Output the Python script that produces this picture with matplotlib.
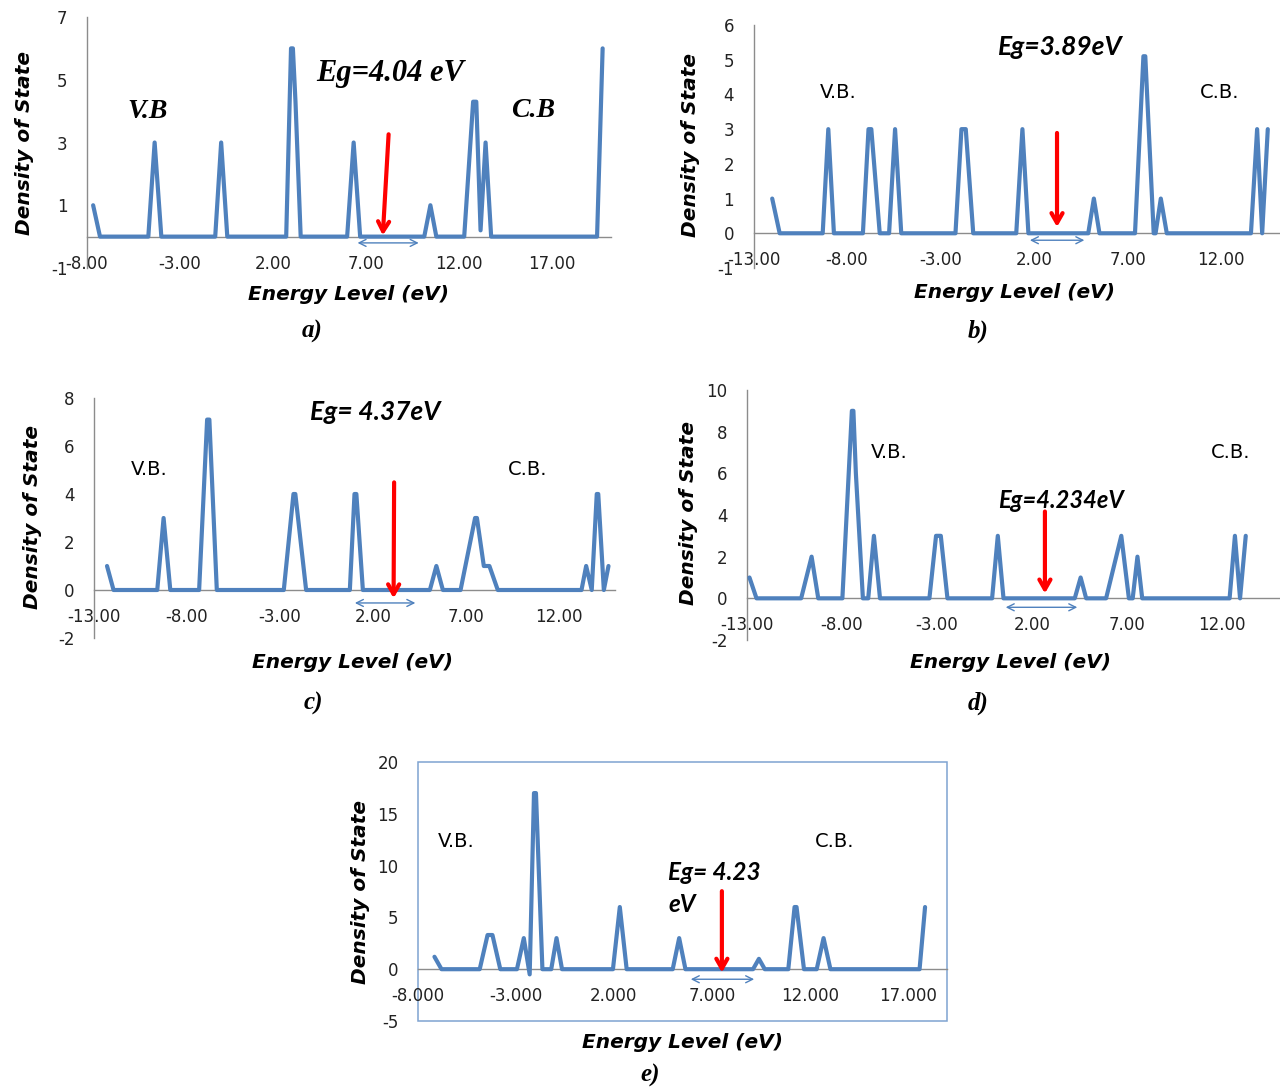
import matplotlib
matplotlib.use("Agg")
import matplotlib.pyplot as plt

plt.rcParams["axes.unicode_minus"] = False

# ---- data (energy in eV, density of states) ----
a_energy = [-7.67, -7.3, -4.7, -4.36, -4.0, -1.1, -0.78, -0.45, 2.72, 2.98, 3.08, 3.22, 3.5,
            6.0, 6.35, 6.7, 10.15, 10.48, 10.8, 12.3, 12.78, 12.95, 13.18, 13.45, 13.75, 19.45, 19.75]
a_dos = [1, 0, 0, 3, 0, 0, 3, 0, 0, 6, 6, 4.3, 0,
         0, 3, 0, 0, 1, 0, 0, 4.3, 4.3, 0.2, 3, 0, 0, 6]

b_energy = [-12.0, -11.6, -9.3, -9.0, -8.7, -7.15, -6.85, -6.7, -6.25, -5.75, -5.43, -5.1,
            -2.2, -1.88, -1.65, -1.25, 1.05, 1.38, 1.7, 4.9, 5.2, 5.5, 7.4, 7.85, 7.95, 8.4,
            8.5, 8.78, 9.1, 13.6, 13.93, 14.2, 14.5]
b_dos = [1, 0, 0, 3, 0, 0, 3, 3, 0, 0, 3, 0,
         0, 3, 3, 0, 0, 3, 0, 0, 1, 0, 0, 5.1, 5.1, 0,
         0, 1, 0, 0, 3, 0, 3]

c_energy = [-12.3, -11.95, -9.6, -9.26, -8.9, -7.35, -6.92, -6.8, -6.4, -2.8, -2.28, -2.18, -1.6,
            0.75, 1.0, 1.1, 1.45, 5.05, 5.4, 5.75, 6.7, 7.48, 7.58, 7.95, 8.25, 8.7,
            13.2, 13.45, 13.75, 14.02, 14.1, 14.4, 14.65]
c_dos = [1, 0, 0, 3, 0, 0, 7.1, 7.1, 0, 0, 4, 4, 0,
         0, 4, 4, 0, 0, 1, 0, 0, 3, 3, 1, 1, 0,
         0, 1, 0, 4, 4, 0, 1]

d_energy = [-12.87, -12.5, -10.15, -9.6, -9.25, -7.98, -7.48, -7.4, -7.27, -6.9, -6.62, -6.32, -6.0,
            -3.4, -3.05, -2.8, -2.45, -0.1, 0.2, 0.5, 4.25, 4.56, 4.85, 5.9, 6.7, 7.1,
            7.3, 7.55, 7.8, 12.4, 12.68, 12.95, 13.25]
d_dos = [1, 0, 0, 2, 0, 0, 9, 9, 6, 0, 0, 3, 0,
         0, 3, 3, 0, 0, 3, 0, 0, 1, 0, 0, 3, 0,
         0, 2, 0, 0, 3, 0, 3]

e_energy = [-7.16, -6.8, -4.85, -4.45, -4.2, -3.8, -2.95, -2.6, -2.3, -2.08, -1.98, -1.65,
            -1.2, -0.93, -0.65, 1.95, 2.3, 2.65, 5.0, 5.33, 5.65, 9.1, 9.4, 9.7,
            10.9, 11.22, 11.32, 11.7, 12.35, 12.7, 13.05, 17.6, 17.88]
e_dos = [1.2, 0, 0, 3.3, 3.3, 0, 0, 3, -0.5, 17, 17, 0,
         0, 3, 0, 0, 6, 0, 0, 3, 0, 0, 1, 0,
         0, 6, 6, 0, 0, 3, 0, 0, 6]

# tick values / labels
a_xticks = [-8, -3, 2, 7, 12, 17]
bcd_xticks = [-13, -8, -3, 2, 7, 12]
e_xticks = [-8, -3, 2, 7, 12, 17]
a_yticks = [-1, 1, 3, 5, 7]
b_yticks = [-1, 0, 1, 2, 3, 4, 5, 6]
c_yticks = [-2, 0, 2, 4, 6, 8]
d_yticks = [-2, 0, 2, 4, 6, 8, 10]
e_yticks = [-5, 0, 5, 10, 15, 20]

# band gap texts
gap_labels = ["Eg=4.04 eV", "Eg=3.89eV", "Eg= 4.37eV", "Eg=4.234eV", "Eg= 4.23\neV"]

W, H = 1280, 1090
BLUE = "#4F81BD"
GRAY = "#8C8C8C"

fig = plt.figure(figsize=(W / 100, H / 100), dpi=100)
fig.patch.set_facecolor("white")


def px_axes(left, top, right, bottom):
    return fig.add_axes([left / W, 1 - bottom / H, (right - left) / W, (bottom - top) / H])


def fig_text(x, y, s, **kw):
    fig.text(x / W, 1 - y / H, s, ha="center", va="center", **kw)


def draw_panel(ax, energy, dos, xlim, ylim, xticks, xfmt, yticks, framed=False):
    ax.plot(energy, dos, color=BLUE, lw=3.0, solid_joinstyle="round",
            solid_capstyle="round", zorder=3, clip_on=False)
    ax.set_xlim(*xlim)
    ax.set_ylim(*ylim)
    ax.set_xticks(xticks)
    ax.set_xticklabels([xfmt.format(t) for t in xticks])
    ax.set_yticks(yticks)
    ax.spines["bottom"].set_position(("data", 0))
    ax.spines["bottom"].set_color(GRAY)
    ax.spines["bottom"].set_linewidth(1.0)
    ax.spines["left"].set_color(GRAY)
    ax.spines["left"].set_linewidth(1.0)
    ax.spines["top"].set_visible(False)
    ax.spines["right"].set_visible(False)
    ax.tick_params(axis="x", length=0, pad=13, labelsize=12, labelcolor="#222222")
    ax.tick_params(axis="y", length=0, pad=14, labelsize=12, labelcolor="#222222")
    ax.patch.set_alpha(0)
    if framed:
        # outer plot-area border as in panel e
        ax.add_patch(plt.Rectangle((0, 0), 1, 1, transform=ax.transAxes, fill=False,
                                   ec="#7FA3D1", lw=1.1, zorder=0, clip_on=False))
        ax.spines["left"].set_visible(False)


def gap_marks(ax, x_top, y_top, x_tip, y_tip, lo, hi, yg):
    ax.annotate("", xy=(x_tip, y_tip), xytext=(x_top, y_top),
                arrowprops=dict(arrowstyle="->,head_length=0.7,head_width=0.4",
                                color="#FF0000", lw=3), zorder=5)
    ax.annotate("", xy=(hi, yg), xytext=(lo, yg),
                arrowprops=dict(arrowstyle="<->,head_length=0.5,head_width=0.25",
                                color=BLUE, lw=1.0), zorder=4)


serif_bi = dict(family="Liberation Serif", weight="bold", style="italic")
sans_bi = dict(family="Lato", weight="bold", style="italic")
lab_kw = dict(fontsize=14.5, weight="bold", style="italic")

# ---- a) ----
ax_a = px_axes(87, 17, 611, 268)
draw_panel(ax_a, a_energy, a_dos, (-8, 20.2), (-1, 7), a_xticks, "{:.2f}", a_yticks)
ax_a.text(8.29, 5.19, gap_labels[0], ha="center", va="center", fontsize=22, **serif_bi)
ax_a.text(-4.72, 3.98, "V.B", ha="center", va="center", fontsize=20, **serif_bi)
ax_a.text(15.98, 4.02, "C.B", ha="center", va="center", fontsize=20, **serif_bi)
gap_marks(ax_a, 8.24, 3.35, 7.91, -0.05, 6.41, 10.0, -0.2)
fig_text(348, 295, "Energy Level (eV)", **lab_kw)
fig_text(25, 143, "Density of State", rotation=90, **lab_kw)
fig_text(312, 331, "a)", fontsize=18, **serif_bi)

# ---- b) ----
ax_b = px_axes(753.5, 25, 1279, 268)
draw_panel(ax_b, b_energy, b_dos, (-13, 15.1), (-1, 6), bcd_xticks, "{:.2f}", b_yticks)
ax_b.text(3.39, 5.36, gap_labels[1], ha="center", va="center", fontsize=19, **sans_bi)
ax_b.text(-8.48, 4.06, "V.B.", ha="center", va="center", fontsize=14)
ax_b.text(11.95, 4.06, "C.B.", ha="center", va="center", fontsize=14)
gap_marks(ax_b, 3.23, 2.97, 3.23, 0.1, 1.63, 4.84, -0.2)
fig_text(1015, 292, "Energy Level (eV)", **lab_kw)
fig_text(691, 145, "Density of State", rotation=90, **lab_kw)
fig_text(978, 331, "b)", fontsize=18, **serif_bi)

# ---- c) ----
ax_c = px_axes(94, 398, 615, 638)
draw_panel(ax_c, c_energy, c_dos, (-13, 15.0), (-2, 8), bcd_xticks, "{:.2f}", c_yticks)
ax_c.text(2.11, 7.4, gap_labels[2], ha="center", va="center", fontsize=19, **sans_bi)
ax_c.text(-10.04, 5.02, "V.B.", ha="center", va="center", fontsize=14)
ax_c.text(10.33, 5.02, "C.B.", ha="center", va="center", fontsize=14)
gap_marks(ax_c, 3.13, 4.6, 3.1, -0.46, 0.87, 4.42, -0.54)
fig_text(353, 662, "Energy Level (eV)", **lab_kw)
fig_text(33, 517, "Density of State", rotation=90, **lab_kw)
fig_text(313, 703, "c)", fontsize=18, **serif_bi)

# ---- d) ----
ax_d = px_axes(747, 390, 1279, 640)
draw_panel(ax_d, d_energy, d_dos, (-13, 15.0), (-2, 10), bcd_xticks, "{:.2f}", d_yticks)
ax_d.text(3.53, 4.71, gap_labels[3], ha="center", va="center", fontsize=17, **sans_bi)
ax_d.text(-5.53, 7.02, "V.B.", ha="center", va="center", fontsize=14)
ax_d.text(12.47, 7.02, "C.B.", ha="center", va="center", fontsize=14)
gap_marks(ax_d, 2.68, 4.3, 2.68, 0.1, 0.47, 4.53, -0.43)
fig_text(1011, 662, "Energy Level (eV)", **lab_kw)
fig_text(688, 513, "Density of State", rotation=90, **lab_kw)
fig_text(978, 703, "d)", fontsize=18, **serif_bi)

# ---- e) ----
ax_e = px_axes(418, 762, 947, 1021)
draw_panel(ax_e, e_energy, e_dos, (-8, 19.0), (-5, 20), e_xticks, "{:.3f}", e_yticks,
           framed=True)
ax_e.text(4.76, 7.8, gap_labels[4], ha="left", va="center", fontsize=17.5,
          linespacing=1.5, **sans_bi)
ax_e.text(-6.06, 12.36, "V.B.", ha="center", va="center", fontsize=14)
ax_e.text(13.28, 12.36, "C.B.", ha="center", va="center", fontsize=14)
gap_marks(ax_e, 7.51, 7.8, 7.51, -0.6, 5.78, 9.3, -0.97)
fig_text(682, 1043, "Energy Level (eV)", **lab_kw)
fig_text(360, 892, "Density of State", rotation=90, **lab_kw)
fig_text(650, 1075, "e)", fontsize=18, **serif_bi)

fig.savefig("out.png", dpi=100, facecolor="white")
